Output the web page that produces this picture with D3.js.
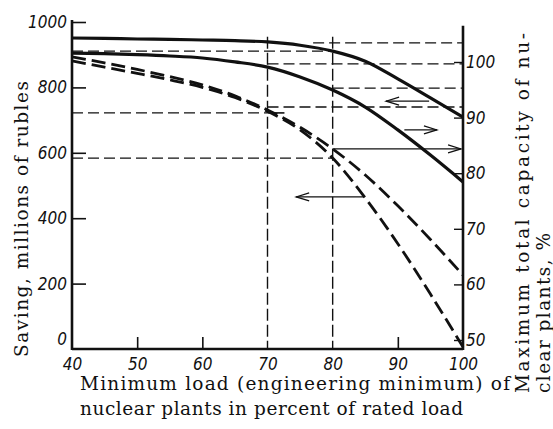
<!DOCTYPE html>
<html>
<head>
<meta charset="utf-8">
<script src="https://cdn.jsdelivr.net/npm/d3@7"></script>
<style>
  html, body { margin: 0; padding: 0; background: #fff; }
  svg { display: block; }
  .title { font-family: "DejaVu Serif", serif; font-size: 18.5px; fill: #111; }
</style>
</head>
<body>
<svg id="chart" width="553" height="429"></svg>
<script>
// Minimum load of nuclear plants, % of rated load
const loads = [40, 45, 50, 55, 60, 65, 70, 75, 80, 85, 90, 95, 100];

// Curves, read on the saving scale (millions of rubles)
const solidUpper  = [951, 950, 948, 947, 945, 943, 939, 929, 911, 880, 826, 768, 709];
const solidLower  = [905, 903, 900, 896, 890, 878, 862, 832, 792, 740, 670, 593, 511];
const dashedUpper = [893, 875, 855, 833, 808, 774, 731, 678, 612, 532, 438, 335, 226];
const dashedLower = [881, 862, 843, 823, 800, 769, 727, 670, 584, 462, 322, 168, 6];

// Construction lines: horizontal (saving value, load range) and vertical (load)
const hGuideValue = [936, 911, 872, 798, 740, 722, 584];
const hGuideFrom  = [77, 40, 70, 80, 70, 40, 40];
const hGuideTo    = [100, 80, 100, 100, 100, 70, 80];
const vGuideLoad  = [70, 80];
const vGuideTop   = 955;

// Reading arrows (saving value, tail load, head load)
const arrowValue = [758, 670, 612, 465];
const arrowTail  = [94.8, 91, 80, 84.8];
const arrowHead  = [88.2, 96, 99.7, 74.4];
// short solid tick where the dashed curves meet at 70 %
const markValue = 722, markFrom = 70, markTo = 72.6;

// Axis ticks
const xTicks = [40, 50, 60, 70, 80, 90, 100];
const yLeftTicks = [0, 200, 400, 600, 800, 1000];
const yRightTicks = [50, 60, 70, 80, 90, 100];

const svg = d3.select("#chart");
const x  = d3.scaleLinear().domain([40, 100]).range([72, 463]);
const yL = d3.scaleLinear().domain([0, 1000]).range([349, 22]);
const yR = d3.scaleLinear().domain([50, 100]).range([340, 62]);

const ink = "#111";

function styleTickText(sel) {
  sel.selectAll(".tick text")
    .attr("fill", ink)
    .style("font-family", "'DejaVu Sans', sans-serif")
    .style("font-stretch", "condensed")
    .style("font-style", "italic")
    .style("font-size", "17px");
}

// construction lines
const guides = svg.append("g").attr("stroke", ink).attr("fill", "none");
hGuideValue.forEach((v, i) => {
  guides.append("line")
    .attr("x1", x(hGuideFrom[i])).attr("x2", x(hGuideTo[i]))
    .attr("y1", yL(v)).attr("y2", yL(v))
    .attr("stroke-width", 1.3).attr("stroke-dasharray", "11,5");
});
vGuideLoad.forEach(l => {
  guides.append("line")
    .attr("x1", x(l)).attr("x2", x(l))
    .attr("y1", yL(vGuideTop)).attr("y2", yL(0))
    .attr("stroke-width", 1.4).attr("stroke-dasharray", "12,4");
});

// arrows
const arrows = svg.append("g").attr("stroke", ink).attr("fill", "none").attr("stroke-width", 1.2);
arrowValue.forEach((v, i) => {
  const x0 = x(arrowTail[i]), x1 = x(arrowHead[i]), yy = yL(v);
  const dir = x1 > x0 ? 1 : -1;
  arrows.append("line").attr("x1", x0).attr("x2", x1).attr("y1", yy).attr("y2", yy);
  arrows.append("path")
    .attr("d", `M${x1 - dir * 13},${yy - 4}L${x1},${yy}L${x1 - dir * 13},${yy + 4}`);
});
arrows.append("line")
  .attr("x1", x(markFrom)).attr("x2", x(markTo))
  .attr("y1", yL(markValue)).attr("y2", yL(markValue)).attr("stroke-width", 1.6);

// curves
const line = d3.line().x((d, i) => x(loads[i])).y(d => yL(d)).curve(d3.curveMonotoneX);
const curves = svg.append("g").attr("fill", "none").attr("stroke", ink).attr("stroke-linecap", "butt");
curves.append("path").attr("d", line(solidUpper)).attr("stroke-width", 3.2);
curves.append("path").attr("d", line(solidLower)).attr("stroke-width", 3.2);
curves.append("path").attr("d", line(dashedUpper)).attr("stroke-width", 2.8).attr("stroke-dasharray", "14,6");
curves.append("path").attr("d", line(dashedLower)).attr("stroke-width", 2.8).attr("stroke-dasharray", "14,6");

// axes
const axX = svg.append("g").attr("transform", `translate(0,${yL(0)})`)
  .call(d3.axisBottom(x).tickValues(xTicks).tickFormat(d3.format("d"))
    .tickSize(-12).tickSizeOuter(0).tickPadding(9));
axX.select(".domain").remove();
axX.selectAll(".tick line")
  .attr("stroke", ink).attr("stroke-width", 1.6)
  .attr("opacity", d => (d === 40 || d === 100 || vGuideLoad.includes(d)) ? 0 : 1);
styleTickText(axX);

const axL = svg.append("g").attr("transform", `translate(${x(40)},0)`)
  .call(d3.axisLeft(yL).tickValues(yLeftTicks).tickFormat(d3.format("d"))
    .tickSize(-14).tickSizeOuter(0).tickPadding(5));
axL.select(".domain").remove();
axL.selectAll(".tick line").attr("stroke", ink).attr("stroke-width", 1.6)
  .attr("opacity", d => d === 0 ? 0 : 1);
styleTickText(axL);
// the zero label sits above the corner
axL.selectAll(".tick text").attr("dy", d => d === 0 ? "-0.25em" : "0.32em");

const axR = svg.append("g").attr("transform", `translate(${x(100)},0)`)
  .call(d3.axisRight(yR).tickValues(yRightTicks).tickFormat(d3.format("d"))
    .tickSize(-9).tickSizeOuter(0).tickPadding(3));
axR.select(".domain").remove();
axR.selectAll(".tick line").attr("stroke", ink).attr("stroke-width", 1.4);
styleTickText(axR);

// axis lines
const frame = svg.append("g").attr("stroke", ink).attr("stroke-width", 2.6).attr("fill", "none");
frame.append("line").attr("x1", x(40)).attr("x2", x(40)).attr("y1", yL(0) + 1).attr("y2", yL(1006));
frame.append("line").attr("x1", x(40)).attr("x2", x(100)).attr("y1", yL(0)).attr("y2", yL(0));
frame.append("line").attr("x1", x(100)).attr("x2", x(100)).attr("y1", yL(0) + 1).attr("y2", yR(106.5));

// titles
function title(text, transform, len) {
  svg.append("text").attr("class", "title")
    .attr("transform", transform)
    .attr("textLength", len).attr("lengthAdjust", "spacing")
    .text(text);
}
title("Saving, millions of rubles", "translate(28,357) rotate(-90)", 276);
title("Maximum total capacity of nu-", "translate(529,393) rotate(-90)", 360);
title("clear plants, %", "translate(550,393) rotate(-90)", 160);
title("Minimum load (engineering minimum) of", "translate(80,390)", 430);
title("nuclear plants in percent of rated load", "translate(80,415)", 383);
</script>
</body>
</html>
